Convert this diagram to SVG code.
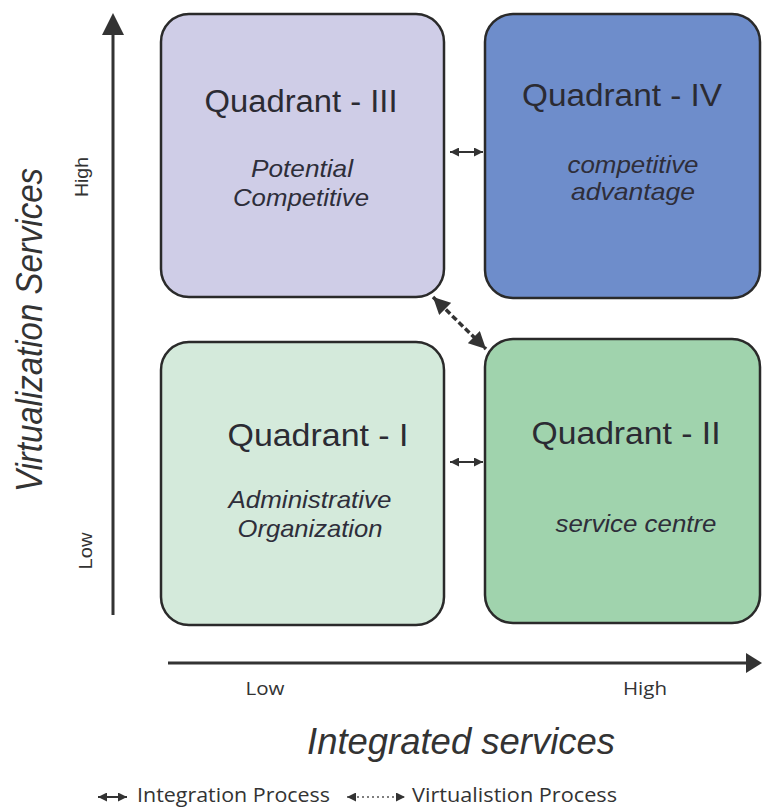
<svg xmlns="http://www.w3.org/2000/svg" width="763" height="808" viewBox="0 0 763 808">
  <style>
    .box { stroke: #2a2a2a; stroke-width: 2.5; }
    .title { font-family: "Liberation Sans", Arial, sans-serif; font-size: 31px; fill: #2b2b33; text-anchor: middle; }
    .sub { font-family: "Liberation Sans", Arial, sans-serif; font-size: 24px; font-style: italic; fill: #2e2e3a; text-anchor: middle; }
    .axis-title { font-family: "Liberation Sans", Arial, sans-serif; font-size: 36px; font-style: italic; fill: #333; text-anchor: middle; }
    .tick { font-family: "Liberation Sans", Arial, sans-serif; font-size: 19px; fill: #333; text-anchor: middle; }
    .tick2 { font-family: "Open Sans", "Liberation Sans", sans-serif; font-size: 18px; fill: #333; text-anchor: middle; }
    .legend { font-family: "Open Sans", "Liberation Sans", sans-serif; font-size: 20px; fill: #333; }
    .axis { stroke: #333; stroke-width: 3; fill: none; }
    .link { stroke: #333; stroke-width: 2; fill: none; }
    .vlink { stroke: #333; stroke-width: 3.5; fill: none; stroke-dasharray: 6 3; }
  </style>
  <defs>
    <marker id="headS" markerUnits="userSpaceOnUse" viewBox="0 0 10 10" refX="10" refY="5" markerWidth="9" markerHeight="9" orient="auto-start-reverse">
      <path d="M0,0 L10,5 L0,10 z" fill="#333"/>
    </marker>
    <marker id="headL" markerUnits="userSpaceOnUse" viewBox="0 0 10 10" refX="10" refY="5" markerWidth="18" markerHeight="17" orient="auto-start-reverse">
      <path d="M0,0 L10,5 L0,10 z" fill="#333"/>
    </marker>
  </defs>

  <!-- axes -->
  <g id="axes">
    <line class="axis" x1="113" y1="615" x2="113" y2="32"/>
    <path d="M113,13 L102,35 L124,35 z" fill="#333"/>
    <line class="axis" x1="168" y1="663" x2="748" y2="663"/>
    <path d="M762,663 L746,653 L746,673 z" fill="#333"/>
    <text class="axis-title" transform="translate(42,330) rotate(-90)" textLength="324" lengthAdjust="spacingAndGlyphs">Virtualization Services</text>
    <text class="tick" transform="translate(88,177) rotate(-90)" textLength="40" lengthAdjust="spacingAndGlyphs">High</text>
    <text class="tick" transform="translate(92,551) rotate(-90)" textLength="37" lengthAdjust="spacingAndGlyphs">Low</text>
    <text class="tick2" x="265" y="695" textLength="39" lengthAdjust="spacingAndGlyphs">Low</text>
    <text class="tick2" x="645" y="695" textLength="44" lengthAdjust="spacingAndGlyphs">High</text>
    <text class="axis-title" x="461" y="754" textLength="308" lengthAdjust="spacingAndGlyphs">Integrated services</text>
  </g>

  <!-- quadrants -->
  <g id="q3">
    <rect class="box" x="161" y="14" width="283" height="283" rx="28" fill="#cfcde7"/>
    <text class="title" x="301" y="112" textLength="193" lengthAdjust="spacingAndGlyphs">Quadrant - III</text>
    <text class="sub" x="302" y="177" textLength="102" lengthAdjust="spacingAndGlyphs">Potential</text>
    <text class="sub" x="301" y="206" textLength="136" lengthAdjust="spacingAndGlyphs">Competitive</text>
  </g>
  <g id="q4">
    <rect class="box" x="485" y="14" width="275" height="284" rx="28" fill="#6e8dcb"/>
    <text class="title" x="622" y="106" textLength="200" lengthAdjust="spacingAndGlyphs" fill="#1f2740">Quadrant - IV</text>
    <text class="sub" x="633" y="173" textLength="131" lengthAdjust="spacingAndGlyphs">competitive</text>
    <text class="sub" x="633" y="200" textLength="124" lengthAdjust="spacingAndGlyphs">advantage</text>
  </g>
  <g id="q1">
    <rect class="box" x="161" y="342" width="283" height="283" rx="28" fill="#d4eadb"/>
    <text class="title" x="318" y="446" textLength="181" lengthAdjust="spacingAndGlyphs">Quadrant - I</text>
    <text class="sub" x="310" y="508" textLength="163" lengthAdjust="spacingAndGlyphs">Administrative</text>
    <text class="sub" x="310" y="537" textLength="145" lengthAdjust="spacingAndGlyphs">Organization</text>
  </g>
  <g id="q2">
    <rect class="box" x="485" y="339" width="275" height="284" rx="28" fill="#a0d3ad"/>
    <text class="title" x="626" y="444" textLength="189" lengthAdjust="spacingAndGlyphs">Quadrant - II</text>
    <text class="sub" x="636" y="532" textLength="161" lengthAdjust="spacingAndGlyphs">service centre</text>
  </g>

  <!-- connectors -->
  <g id="connectors">
    <line class="link" x1="450" y1="152" x2="483" y2="152" marker-start="url(#headS)" marker-end="url(#headS)"/>
    <line class="link" x1="450" y1="462" x2="483" y2="462" marker-start="url(#headS)" marker-end="url(#headS)"/>
    <line class="vlink" x1="433" y1="297" x2="486" y2="349" marker-start="url(#headL)" marker-end="url(#headL)"/>
  </g>

  <!-- legend -->
  <g id="legend">
    <line class="link" x1="98" y1="797" x2="127" y2="797" marker-start="url(#headS)" marker-end="url(#headS)"/>
    <text class="legend" x="137" y="802" textLength="193" lengthAdjust="spacingAndGlyphs">Integration Process</text>
    <line x1="347" y1="797" x2="405" y2="797" stroke="#555" stroke-width="1.5" stroke-dasharray="2 3" marker-start="url(#headS)" marker-end="url(#headS)"/>
    <text class="legend" x="412" y="802" textLength="205" lengthAdjust="spacingAndGlyphs">Virtualistion Process</text>
  </g>
</svg>
